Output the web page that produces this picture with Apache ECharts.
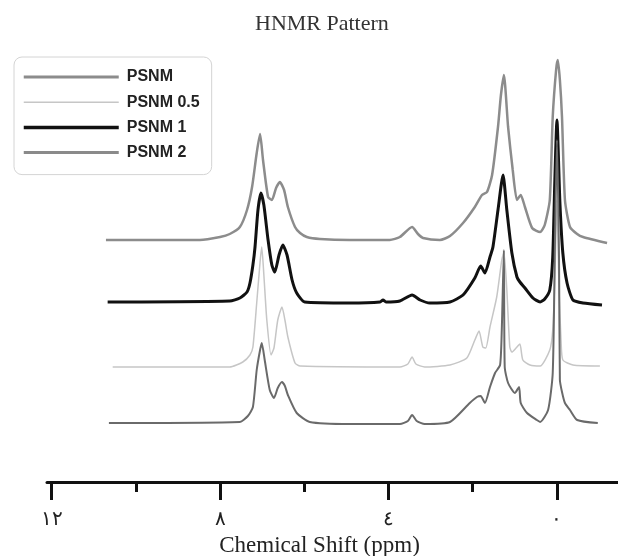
<!DOCTYPE html>
<html>
<head>
<meta charset="utf-8">
<script src="https://cdn.jsdelivr.net/npm/echarts@6/dist/echarts.min.js"></script>
<style>
  html, body { margin: 0; padding: 0; background: #fff; }
  #main { width: 618px; height: 556px; }
</style>
</head>
<body>
<div id="main"></div>
<script>
// spectra as [shift (ppm), intensity above own baseline]
var psnm = [[10.71,0],[8.48,0],[8.00,0.75],[7.77,1.5],[7.53,3.25],[7.36,7.5],[7.24,13.25],[7.13,21.75],[7.05,26.5],[6.98,20],[6.86,10.75],[6.77,10],[6.67,13],[6.58,14.5],[6.48,12.5],[6.39,8.25],[6.22,3.25],[6.10,1.75],[5.94,0.75],[5.63,0.25],[4.92,0],[3.97,0],[3.73,0.75],[3.44,3.25],[3.30,1.5],[3.18,0.5],[2.78,0],[2.54,1],[2.23,4.25],[1.95,8.25],[1.78,11.25],[1.66,12],[1.54,16.25],[1.40,28.25],[1.33,36.25],[1.26,41.25],[1.16,28.25],[1.05,17.5],[0.95,10],[0.86,11.25],[0.76,8.25],[0.59,3],[0.40,2],[0.29,3.75],[0.17,10],[0.10,30.75],[0.02,42.5],[-0.02,45],[-0.07,40],[-0.12,30.75],[-0.19,10],[-0.31,3.25],[-0.48,1.5],[-0.62,0.75],[-1.19,-0.75]];
var psnm05 = [[10.55,0],[7.77,0],[7.46,1.25],[7.29,3],[7.22,5],[7.13,16],[7.05,26.25],[7.01,30],[6.96,23],[6.89,11.75],[6.79,3],[6.72,4.75],[6.63,11.75],[6.53,15],[6.46,11.75],[6.39,7.5],[6.22,1],[6.10,0.25],[3.73,0],[3.54,0.75],[3.44,2.5],[3.35,0.75],[3.14,0],[2.54,0.5],[2.14,2.25],[1.95,6.75],[1.85,9],[1.76,5],[1.69,4.75],[1.59,10],[1.43,17.5],[1.31,26.75],[1.26,28.75],[1.19,19.25],[1.12,5],[1.07,3.75],[0.97,4.75],[0.88,5.75],[0.81,1.75],[0.64,0.5],[0.40,0.25],[0.17,4.25],[0.10,9.25],[0.05,21.75],[0.00,41.75],[-0.05,19.25],[-0.10,6],[-0.14,1.75],[-0.38,0.5],[-1.02,0.25]];
var psnm1 = [[10.67,0],[7.77,0.25],[7.53,1],[7.36,2.5],[7.29,4.75],[7.22,9.25],[7.17,13.75],[7.10,23],[7.03,27.25],[6.96,24.25],[6.86,15.5],[6.77,9.25],[6.70,7.5],[6.60,11.75],[6.51,14.25],[6.41,11.75],[6.29,5.5],[6.18,2.25],[5.99,0],[4.92,-0.25],[4.20,0],[4.13,0.5],[4.06,0],[3.73,0.25],[3.44,1.75],[3.25,0.5],[3.02,-0.25],[2.54,0],[2.23,1.75],[1.95,6],[1.81,9],[1.71,7.25],[1.59,11.25],[1.52,13.75],[1.40,23],[1.28,31.75],[1.19,23],[1.07,12.25],[0.95,6.25],[0.88,5],[0.76,3.5],[0.57,1],[0.40,0],[0.29,0.75],[0.17,3],[0.10,11.25],[0.05,30.5],[0.00,45.5],[-0.07,25],[-0.14,12.25],[-0.24,4.75],[-0.38,0.5],[-0.62,-0.25],[-1.07,-0.75]];
var psnm2 = [[10.64,0.25],[7.53,0.5],[7.34,2],[7.22,4.25],[7.13,13.5],[7.05,18.5],[7.01,20.25],[6.94,16],[6.82,8.5],[6.72,6.5],[6.63,9],[6.53,10.5],[6.46,9.5],[6.39,7.25],[6.18,2.75],[5.87,0.5],[4.92,0],[3.73,0],[3.54,0.75],[3.44,2.25],[3.33,0.75],[3.14,0],[2.54,0.5],[2.07,5.25],[1.90,6.75],[1.81,7],[1.71,5.25],[1.59,9.25],[1.47,12.75],[1.35,14.75],[1.31,23.5],[1.26,43.5],[1.24,14.25],[1.16,10.25],[1.00,7.75],[0.90,9.25],[0.86,5.25],[0.71,2.75],[0.48,1],[0.40,0.5],[0.21,3.5],[0.10,12.75],[0.05,43.5],[0.00,71],[-0.05,41],[-0.07,11],[-0.12,8],[-0.19,5.25],[-0.31,3.5],[-0.48,1],[-0.97,0.25]];

var seriesNames = ['PSNM', 'PSNM 0.5', 'PSNM 1', 'PSNM 2'];
var spectra = [psnm, psnm05, psnm1, psnm2];
var baselines = [60.5, 28.75, 45, 14.5];   // vertical offset of each trace
var majorTicks = [12, 8, 4, 0];
var majorLabels = ['١٢', '٨', '٤', '٠'];
var minorTicks = [10, 6, 2];

var colors = ['#8c8c8c', '#c6c6c6', '#111111', '#6a6a6a'];
var widths = [2.5, 1.5, 3, 2];
var legendWidths = [3, 1.5, 3.5, 3];
var legendColors = ['#8c8c8c', '#c6c6c6', '#111111', '#8a8a8a'];

var chart = echarts.init(document.getElementById('main'));

var series = spectra.map(function (pts, i) {
  return {
    name: seriesNames[i],
    type: 'line',
    symbol: 'none',
    smooth: 0.2,
    animation: false,
    lineStyle: { color: colors[i], width: widths[i] },
    itemStyle: { color: colors[i] },
    data: pts.map(function (p) { return [p[0], p[1] + baselines[i]]; })
  };
});

chart.setOption({
  backgroundColor: '#fff',
  title: {
    text: 'HNMR Pattern',
    left: 250,
    top: 8,
    textStyle: { fontFamily: 'Liberation Serif', fontWeight: 'normal', fontSize: 22, color: '#333' }
  },
  legend: {
    data: seriesNames.map(function (n, i) {
      return { name: n, lineStyle: { color: legendColors[i], width: legendWidths[i] } };
    }),
    orient: 'vertical',
    left: 14,
    top: 57,
    padding: [12, 12, 14, 8],
    itemWidth: 95,
    itemHeight: 14,
    itemGap: 9.2,
    itemStyle: { opacity: 0 },
    borderColor: '#d4d4d4',
    borderWidth: 1,
    borderRadius: 8,
    textStyle: { fontFamily: 'Liberation Sans', fontWeight: 'bold', fontSize: 16, color: '#222', padding: [0, 0, 0, 3] }
  },
  grid: { left: 47, right: 0, top: 42, bottom: 74, outerBoundsMode: 'none' },
  xAxis: [{
    type: 'value',
    min: -1.45,
    max: 12.11,
    inverse: true,
    position: 'bottom',
    name: 'Chemical Shift (ppm)',
    nameLocation: 'middle',
    nameGap: 42,
    nameTextStyle: { fontFamily: 'Liberation Serif', fontSize: 23, color: '#222', padding: [0, 26, 0, 0] },
    axisLine: { lineStyle: { color: '#111', width: 3 } },
    axisTick: { customValues: majorTicks, length: 18, lineStyle: { color: '#111', width: 3 } },
    axisLabel: {
      customValues: majorTicks,
      margin: 28,
      fontFamily: 'Liberation Serif',
      fontSize: 20,
      color: '#222',
      formatter: function (v) { return majorLabels[majorTicks.indexOf(v)]; }
    },
    splitLine: { show: false }
  }, {
    type: 'value',
    min: -1.45,
    max: 12.11,
    inverse: true,
    position: 'bottom',
    axisLine: { show: false },
    axisTick: { customValues: minorTicks, length: 10, lineStyle: { color: '#111', width: 3 } },
    axisLabel: { show: false },
    splitLine: { show: false }
  }],
  yAxis: {
    type: 'value',
    min: 0,
    max: 110,
    show: false,
    splitLine: { show: false }
  },
  series: series
});
</script>
</body>
</html>
